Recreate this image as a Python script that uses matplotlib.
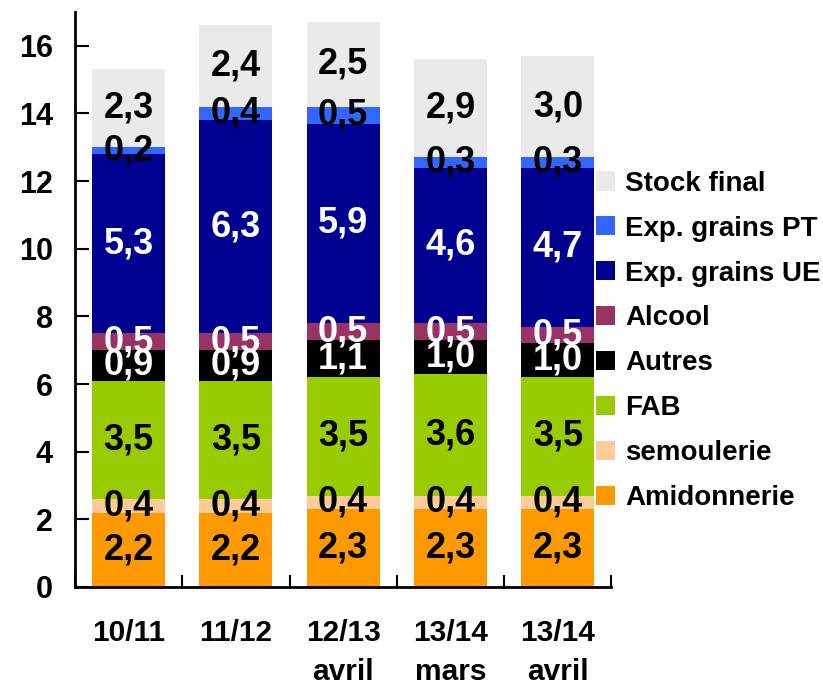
import matplotlib
matplotlib.use("Agg")
import matplotlib.pyplot as plt
import numpy as np

plt.rcParams['font.family'] = ['Liberation Sans', 'DejaVu Sans']
plt.rcParams['font.weight'] = 'bold'

# campaigns
categories = ['10/11', '11/12', '12/13\navril', '13/14\nmars', '13/14\navril']

# series, bottom to top
series_names = ['Amidonnerie', 'semoulerie', 'FAB', 'Autres', 'Alcool',
                'Exp. grains UE', 'Exp. grains PT', 'Stock final']
amidonnerie = [2.2, 2.2, 2.3, 2.3, 2.3]
semoulerie = [0.4, 0.4, 0.4, 0.4, 0.4]
fab = [3.5, 3.5, 3.5, 3.6, 3.5]
autres = [0.9, 0.9, 1.1, 1.0, 1.0]
alcool = [0.5, 0.5, 0.5, 0.5, 0.5]
exp_ue = [5.3, 6.3, 5.9, 4.6, 4.7]
exp_pt = [0.2, 0.4, 0.5, 0.3, 0.3]
stock = [2.3, 2.4, 2.5, 2.9, 3.0]

colors = ['#FF9900', '#FFCC99', '#99CC00', '#000000', '#993366',
          '#000090', '#3366FF', '#EAEAEA']
label_colors = ['black', 'black', 'black', 'white', 'white',
                'white', 'black', 'black']

data = [amidonnerie, semoulerie, fab, autres, alcool, exp_ue, exp_pt, stock]

fig = plt.figure(figsize=(8.23, 6.87), dpi=100)
ax = fig.add_axes([0.091, 0.1456, 0.652, 0.837])

x = np.arange(len(categories))
bottom = np.zeros(len(categories))
handles = []
for name, vals, c, lc in zip(series_names, data, colors, label_colors):
    vals = np.array(vals)
    bars = ax.bar(x, vals, 0.68, bottom=bottom, color=c, label=name)
    handles.append(bars)
    # value labels, french decimal comma
    for xi, b, v in zip(x, bottom, vals):
        ax.text(xi, b + v / 2, ('%.1f' % v).replace('.', ','),
                ha='center', va='center', fontsize=26, fontweight='bold',
                color=lc)
    bottom += vals

ax.set_xlim(-0.5, 4.5)
ax.set_ylim(0, 17)
ax.set_yticks([0, 2, 4, 6, 8, 10, 12, 14, 16])
ax.tick_params(axis='y', direction='in', length=10, width=1.5,
               labelsize=22, pad=16)
ax.set_xticks(x)
ax.set_xticklabels(categories, fontsize=21.5, fontweight='bold', linespacing=1.5)
ax.tick_params(axis='x', which='major', length=0, pad=23)
ax.set_xticks(np.arange(-0.5, 5, 1), minor=True)
ax.tick_params(axis='x', which='minor', direction='in', length=9, width=1.5)

for s in ['top', 'right']:
    ax.spines[s].set_visible(False)
for s in ['left', 'bottom']:
    ax.spines[s].set_linewidth(2)

leg = ax.legend(handles[::-1], series_names[::-1], loc='center left',
                bbox_to_anchor=(0.925, 0.428), frameon=False,
                prop={'size': 20, 'weight': 'bold'},
                handlelength=0.68, handleheight=0.68, handletextpad=0.35,
                labelspacing=0.68)

fig.savefig('out.png', dpi=100)
